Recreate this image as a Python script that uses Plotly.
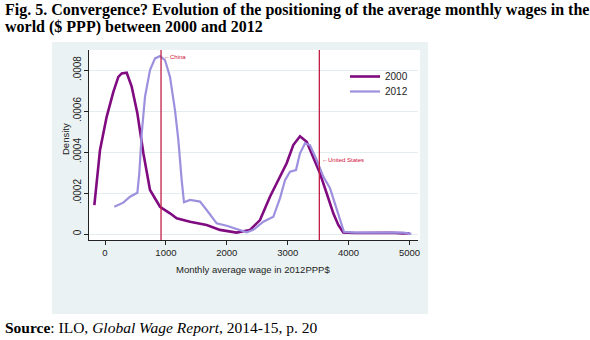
import plotly.graph_objects as go

# ---- data ----
wage_2000 = [-175, -136, -82, 27, 137, 219, 274, 356, 438, 531, 630, 739, 903, 1067, 1177,
             1396, 1669, 1888, 2162, 2381, 2545, 2709, 2874, 2983, 3092, 3202, 3312, 3420,
             3530, 3640, 3749, 3831, 3913, 4100, 4300, 4500, 4700, 4900, 5000]
dens_2000 = [1.41, 2.63, 4.10, 5.72, 6.94, 7.67, 7.84, 7.87, 7.19, 5.89, 3.94, 2.15, 1.33, 1.01, 0.77,
             0.60, 0.44, 0.20, 0.07, 0.20, 0.68, 1.82, 2.85, 3.45, 4.34, 4.77, 4.50, 3.77,
             2.96, 1.99, 1.01, 0.44, 0.07, 0.05, 0.06, 0.04, 0.06, 0.03, 0.04]

wage_2012 = [153, 300, 411, 531, 563, 603, 657, 739, 821, 903, 985, 1067, 1149, 1204, 1259,
             1297, 1396, 1560, 1669, 1834, 1998, 2162, 2327, 2435, 2600, 2764, 2874, 2956,
             3038, 3136, 3202, 3284, 3366, 3476, 3585, 3695, 3777, 3859, 3924, 4100, 4500,
             4900, 5030]
dens_2012 = [1.33, 1.53, 1.82, 2.01, 2.96, 4.91, 6.70, 8.00, 8.57, 8.68, 8.49, 7.67, 6.05, 4.59, 2.63,
             1.55, 1.66, 1.58, 1.17, 0.52, 0.40, 0.23, 0.08, 0.20, 0.60, 0.84, 1.75, 2.63,
             3.04, 3.12, 3.94, 4.42, 4.34, 3.61, 2.80, 2.23, 1.50, 0.68, 0.11, 0.07, 0.07,
             0.07, 0.01]
dens_scale = 1e-4

marker_names = ["China", "United States"]
marker_wages = [920, 3520]
marker_label_y = [0.963, 0.421]

x_ticks = [0, 1000, 2000, 3000, 4000, 5000]
y_ticks = [0, 0.0002, 0.0004, 0.0006, 0.0008]
y_tick_text = ["0", ".0002", ".0004", ".0006", ".0008"]

# ---- figure ----
W, H = 590, 340
L, R, T, B = 89, 418, 50, 240
def px(xp):
    return (xp - L) / (R - L)
def py(yp):
    return (B - yp) / (B - T)

fig = go.Figure()
fig.add_trace(go.Scatter(x=wage_2000, y=[d * dens_scale for d in dens_2000], mode="lines",
                         name="2000", legend="legend", line=dict(color="#800a80", width=2.6)))
fig.add_trace(go.Scatter(x=wage_2012, y=[d * dens_scale for d in dens_2012], mode="lines",
                         name="2012", legend="legend2", line=dict(color="#9d90de", width=2.2)))

shapes = [
    dict(type="rect", xref="paper", yref="paper", x0=px(52), x1=px(428), y0=py(314), y1=py(42),
         fillcolor="#eaf2f3", line=dict(width=0), layer="below"),
    dict(type="rect", xref="paper", yref="paper", x0=0, x1=px(420), y0=0, y1=1,
         fillcolor="#ffffff", line=dict(width=0), layer="below"),
]
for w in marker_wages:
    shapes.append(dict(type="line", xref="x", yref="paper", x0=w, x1=w, y0=0, y1=1,
                       line=dict(color="#c21f45", width=1.3)))

annotations = [
    dict(text="<b>Fig. 5. Convergence? Evolution of the positioning of the average monthly wages in the</b>",
         xref="paper", yref="paper", x=px(3), y=py(10), xanchor="left", yanchor="middle",
         showarrow=False, font=dict(family="Liberation Serif", size=16, color="#000")),
    dict(text="<b>world ($ PPP) between 2000 and 2012</b>",
         xref="paper", yref="paper", x=px(3), y=py(27), xanchor="left", yanchor="middle",
         showarrow=False, font=dict(family="Liberation Serif", size=16, color="#000")),
    dict(text="<b>Source</b>: ILO, <i>Global Wage Report</i>, 2014-15, p. 20",
         xref="paper", yref="paper", x=px(3), y=py(327), xanchor="left", yanchor="middle",
         showarrow=False, font=dict(family="Liberation Serif", size=15.5, color="#000")),
    dict(text="Monthly average wage in 2012PPP$", xref="paper", yref="paper",
         x=px(253), y=py(269), xanchor="center", yanchor="middle", showarrow=False,
         font=dict(family="Liberation Sans", size=9.5, color="#222")),
    dict(text="Density", xref="paper", yref="paper", textangle=-90,
         x=px(65), y=py(139), xanchor="center", yanchor="middle", showarrow=False,
         font=dict(family="Liberation Sans", size=9.5, color="#222")),
]
for name, w, yl in zip(marker_names, marker_wages, marker_label_y):
    annotations.append(dict(text="←" + name, xref="x", yref="paper", x=w, y=yl,
                            xanchor="left", yanchor="middle", xshift=1, showarrow=False,
                            font=dict(family="Liberation Sans", size=6, color="#d0103a")))

legend_common = dict(xanchor="left", yanchor="top", bgcolor="rgba(0,0,0,0)",
                     font=dict(size=10, family="Liberation Sans", color="#222"), itemwidth=30)

fig.update_layout(
    width=W, height=H,
    margin=dict(l=L, r=W - R, t=T, b=H - B),
    paper_bgcolor="#ffffff", plot_bgcolor="#ffffff",
    shapes=shapes, annotations=annotations,
    font=dict(family="Liberation Sans", size=9.5, color="#222"),
    showlegend=True,
    legend=dict(x=px(345), y=py(62), **legend_common),
    legend2=dict(x=px(345), y=py(77), **legend_common),
    xaxis=dict(range=[-263, 5140], tickvals=x_ticks, ticks="outside", ticklen=4,
               tickcolor="#222", showline=True, linecolor="#222", linewidth=1,
               showgrid=False, zeroline=False, tickfont=dict(size=9.5)),
    yaxis=dict(range=[-0.0000293, 0.000898], tickvals=y_ticks, ticktext=y_tick_text,
               tickangle=-90, ticks="outside", ticklen=4, tickcolor="#222",
               showline=True, linecolor="#222", linewidth=1,
               showgrid=True, gridcolor="#e3ecee", gridwidth=1, zeroline=False,
               tickfont=dict(size=10), ticklabelstandoff=-1),
)

fig.write_html("out.html")
